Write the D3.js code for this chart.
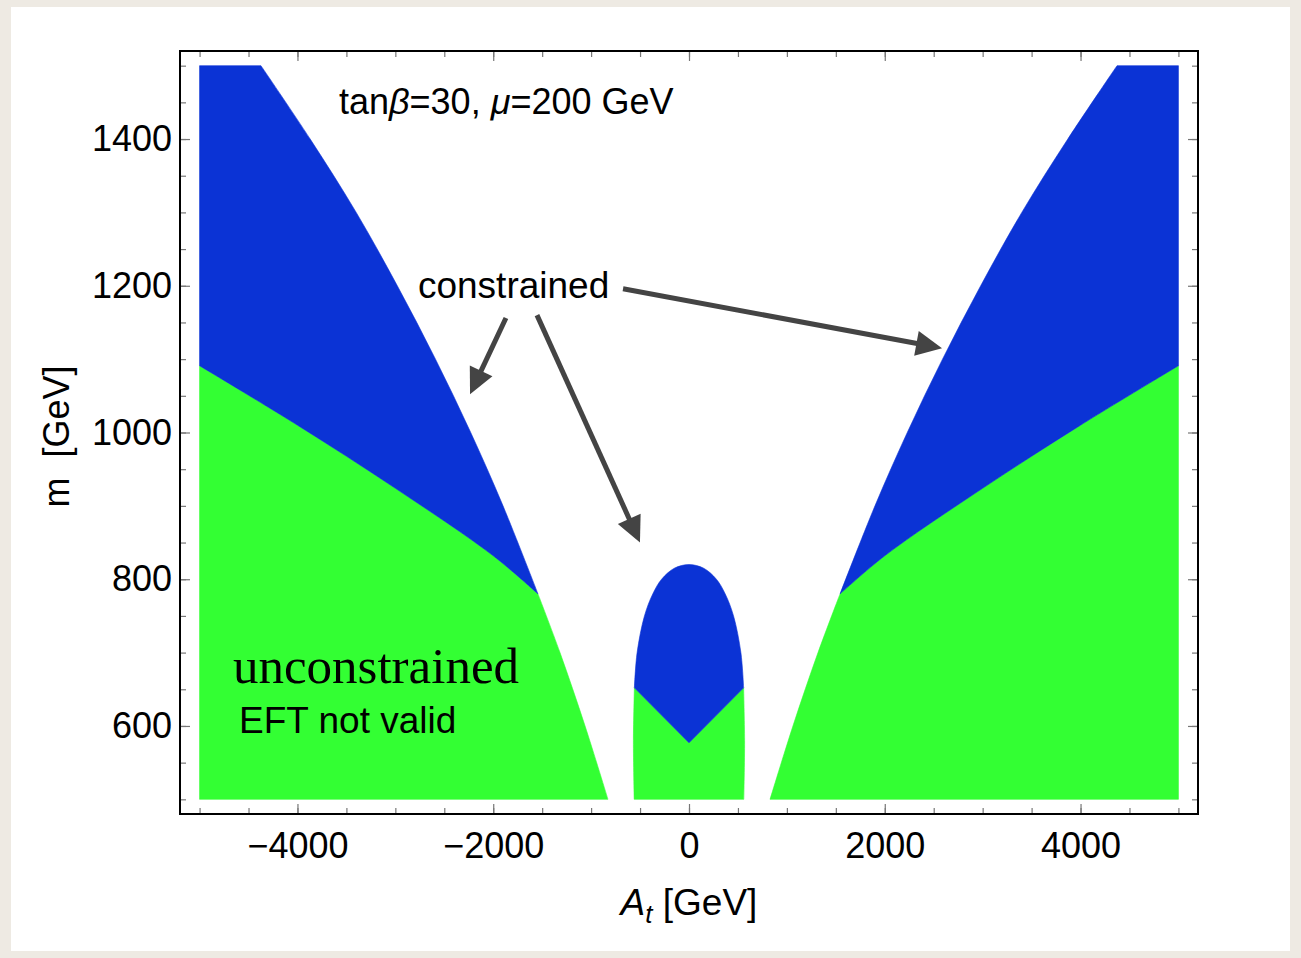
<!DOCTYPE html>
<html>
<head>
<meta charset="utf-8">
<script src="https://cdn.jsdelivr.net/npm/d3@7"></script>
<style>
  body { margin: 0; background: #eeeae3; }
  svg { display: block; font-family: "Liberation Sans", Arial, sans-serif; }
</style>
</head>
<body>
<div id="chart"></div>
<script>
// ---- data (A_t and m in GeV) ----
// edge of the white gap on the A_t < 0 side; index 3 is the green/blue corner
var gapM = [500, 600, 700, 780, 900, 1000, 1100, 1200, 1300, 1400, 1500];
var gapA = [-828, -1062, -1318, -1543, -1900, -2230, -2590, -2980, -3400, -3870, -4373];
// blue / green border on the A_t < 0 side
var splitA = [-5000, -4000, -3000, -2000, -1543];
var splitM = [1091, 1010, 924, 832, 780];
// central island, half width at each m
var blobM = [500, 580, 652, 700, 750, 780, 800, 815, 820];
var blobA = [560, 568, 558, 530, 455, 370, 280, 150, 0];
// V shaped border inside the island
var veeA = [-558, 0, 558];
var veeM = [652, 577, 652];
// plotted range
var aMin = -5000, aMax = 5000, mMin = 500, mMax = 1500;

// ticks
var xMajor = [-4000, -2000, 0, 2000, 4000];
var yMajor = [600, 800, 1000, 1200, 1400];
var xMinor = d3.range(-5000, 5001, 500);
var yMinor = d3.range(500, 1501, 50);

var blue = "#0b33d5", green = "#33ff33";

// ---- canvas ----
var W = 1301, H = 958;
var svg = d3.select("#chart").append("svg")
    .attr("width", W)
    .attr("height", H);

// white card on the paper background
svg.append("rect")
    .attr("x", 11).attr("y", 7)
    .attr("width", 1279).attr("height", 944)
    .attr("fill", "#ffffff");

var pLeft = 180, pRight = 1198, pTop = 51, pBottom = 814;

var x = d3.scaleLinear().domain([-5200, 5200]).range([pLeft, pRight]);
var y = d3.scaleLinear().domain([480, 1520]).range([pBottom, pTop]);

// path pieces in data space, glued into one closed outline
function seg(pts, curve) {
    return d3.line()
        .x(d => x(d[0]))
        .y(d => y(d[1]))
        .curve(curve || d3.curveLinear)(pts);
}
function glue(parts) {
    return parts.map((p, i) => i === 0 ? p : "L" + p.slice(1)).join("") + "Z";
}
var smooth = d3.curveCatmullRom.alpha(0.5);

function pts(as, ms, sign) {
    return as.map((a, i) => [sign * a, ms[i]]);
}

var gapAll = pts(gapA, gapM, 1);
var gapLow = gapAll.slice(0, 4);        // m 500 .. corner
var gapHigh = gapAll.slice(3);          // corner .. m 1500
var split = pts(splitA, splitM, 1);

function sideShapes(s) {
    var flip = p => [s * p[0], p[1]];
    var low = gapLow.map(flip), high = gapHigh.map(flip), sp = split.map(flip);
    var edgeA = s * aMin;
    var greenPath = glue([
        seg([[edgeA, mMin], [edgeA, sp[0][1]]]),
        seg(sp, smooth),
        seg(low.slice().reverse(), smooth)
    ]);
    var bluePath = glue([
        seg([[edgeA, sp[0][1]], [edgeA, mMax], high[high.length - 1]]),
        seg(high.slice().reverse(), smooth),
        seg(sp.slice().reverse(), smooth)
    ]);
    return [{d: greenPath, c: green}, {d: bluePath, c: blue}];
}

// island outline
var blobLeft = pts(blobA, blobM, -1);
var blobRight = pts(blobA, blobM, 1);
var vee = pts(veeA, veeM, 1);
var islandGreen = glue([
    seg(blobLeft.slice(0, 3), smooth),
    seg(vee),
    seg(blobRight.slice(0, 3).reverse(), smooth)
]);
var islandBlue = glue([
    seg(blobLeft.slice(2).concat(blobRight.slice(2, -1).reverse()), smooth),
    seg(vee.slice().reverse())
]);

var shapes = sideShapes(1).concat(sideShapes(-1))
    .concat([{d: islandGreen, c: green}, {d: islandBlue, c: blue}]);

svg.append("g").selectAll("path")
    .data(shapes)
    .enter()
    .append("path")
    .attr("d", d => d.d)
    .attr("fill", d => d.c)
    .attr("stroke", d => d.c)
    .attr("stroke-width", 0.6);

// ---- ticks on all four sides, pointing inward ----
function fmt(d) { return d < 0 ? "\u2212" + (-d) : String(d); }

function addAxis(axisFn, scale, tf, values, size, labels, pad) {
    var g = svg.append("g")
        .attr("transform", tf)
        .call(axisFn(scale).tickValues(values).tickSize(-size)
            .tickPadding(pad || 0)
            .tickFormat(labels ? fmt : ""));
    g.select(".domain").remove();
    g.selectAll(".tick line").attr("stroke", "#777").attr("stroke-width", 1.2);
    g.selectAll(".tick text")
        .attr("fill", "#000")
        .style("font-family", "'Liberation Sans', Arial, sans-serif")
        .style("font-size", "36px");
    return g;
}
addAxis(d3.axisBottom, x, "translate(0," + pBottom + ")", xMinor, 6, false);
addAxis(d3.axisBottom, x, "translate(0," + pBottom + ")", xMajor, 10, true, 18);
addAxis(d3.axisTop, x, "translate(0," + pTop + ")", xMinor, 6, false);
addAxis(d3.axisTop, x, "translate(0," + pTop + ")", xMajor, 10, false);
addAxis(d3.axisLeft, y, "translate(" + pLeft + ",0)", yMinor, 6, false);
addAxis(d3.axisLeft, y, "translate(" + pLeft + ",0)", yMajor, 10, true, 8);
addAxis(d3.axisRight, y, "translate(" + pRight + ",0)", yMinor, 6, false);
addAxis(d3.axisRight, y, "translate(" + pRight + ",0)", yMajor, 10, false);

// frame
svg.append("rect")
    .attr("x", pLeft).attr("y", pTop)
    .attr("width", pRight - pLeft).attr("height", pBottom - pTop)
    .attr("fill", "none")
    .attr("stroke", "#000")
    .attr("stroke-width", 2);

// ---- axis titles ----
var xt = svg.append("text")
    .attr("x", x(0)).attr("y", 915)
    .attr("text-anchor", "middle")
    .style("font-size", "37px");
xt.append("tspan").style("font-style", "italic").text("A");
xt.append("tspan").style("font-style", "italic").style("font-size", "26px")
    .attr("dy", 8).text("t");
xt.append("tspan").attr("dy", -8).text(" [GeV]");

svg.append("text")
    .attr("transform", "translate(69," + (y(1000) + 4) + ") rotate(-90)")
    .attr("text-anchor", "middle")
    .style("font-size", "36px")
    .style("white-space", "pre")
    .text("m  [GeV]");

// ---- annotations ----
var title = svg.append("text")
    .attr("x", x(-3576)).attr("y", y(1434))
    .style("font-size", "36px");
title.append("tspan").text("tan");
title.append("tspan").style("font-style", "italic").text("\u03b2");
title.append("tspan").text("=30, ");
title.append("tspan").style("font-style", "italic").text("\u03bc");
title.append("tspan").text("=200 GeV");

svg.append("text")
    .attr("x", x(-2769)).attr("y", y(1184))
    .style("font-size", "37px")
    .text("constrained");

svg.append("text")
    .attr("x", x(-4659)).attr("y", y(659))
    .style("font-family", "'Liberation Serif', 'Times New Roman', serif")
    .style("font-size", "51px")
    .text("unconstrained");

svg.append("text")
    .attr("x", x(-4597)).attr("y", y(590))
    .style("font-size", "37px")
    .text("EFT not valid");

// arrows: [from, to] in data space
var arrows = [
    [[-1870, 1156], [-2237, 1052]],
    [[-1553, 1160], [-501, 850]],
    [[-674, 1196], [2585, 1115]]
];
var headLen = 26, headHalf = 12.5;
var ag = svg.append("g");
arrows.forEach(function(a) {
    var x0 = x(a[0][0]), y0 = y(a[0][1]), x1 = x(a[1][0]), y1 = y(a[1][1]);
    var dx = x1 - x0, dy = y1 - y0, L = Math.sqrt(dx * dx + dy * dy);
    var ux = dx / L, uy = dy / L;
    var bx = x1 - ux * headLen, by = y1 - uy * headLen;
    ag.append("line")
        .attr("x1", x0).attr("y1", y0)
        .attr("x2", bx + ux * 2).attr("y2", by + uy * 2)
        .attr("stroke", "#444")
        .attr("stroke-width", 5);
    ag.append("polygon")
        .attr("points", [
            [x1, y1],
            [bx - uy * headHalf, by + ux * headHalf],
            [bx + uy * headHalf, by - ux * headHalf]
        ].map(p => p.join(",")).join(" "))
        .attr("fill", "#444");
});
</script>
</body>
</html>
